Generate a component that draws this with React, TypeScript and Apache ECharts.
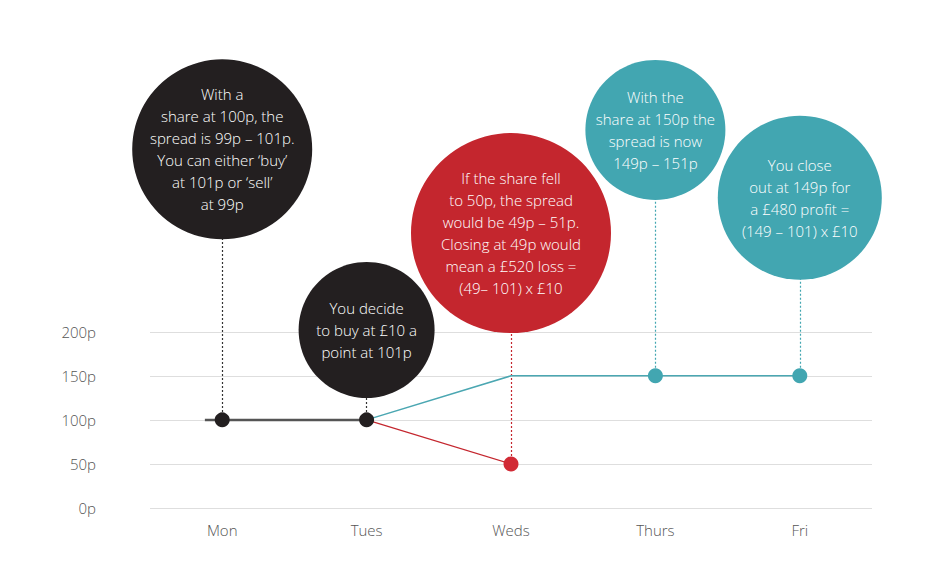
import React, { useEffect, useRef } from "react";
import * as echarts from "echarts";

// ---- data ----
const days = ["Mon", "Tues", "Weds", "Thurs", "Fri"];
const yTicks = [0, 50, 100, 150, 200];
const openingLine: [number, number][] = [[-0.12, 100], [0, 100], [1, 100]];
const riseLine: [number, number][] = [[1, 100], [2, 150], [3, 150], [4, 150]];
const fallLine: [number, number][] = [[1, 100], [2, 50]];
const noteTexts = [
  "With a\nshare at 100p, the\nspread is 99p – 101p.\nYou can either ‘buy’\nat 101p or ‘sell’\nat 99p",
  "You decide\nto buy at £10 a\npoint at 101p",
  "If the share fell\nto 50p, the spread\nwould be 49p – 51p.\nClosing at 49p would\nmean a £520 loss =\n(49– 101) x £10",
  "With the\nshare at 150p the\nspread is now\n149p – 151p",
  "You close\nout at 149p for\na £480 profit =\n(149 – 101) x £10",
];
const noteAnchors: [number, number][] = [[0, 100], [1, 100], [2, 50], [3, 150], [4, 150]];

// ---- layout / style (kept apart from data) ----
const BLACK = "#231f20";
const RED = "#c4262e";
const TEAL = "#42a6b1";
const bubbleLayout = [
  { cy: 407, size: 180, color: BLACK, line: "#333" },
  { cy: 202, size: 136, color: BLACK, line: "#333" },
  { cy: 312, size: 200, color: RED, line: RED },
  { cy: 429, size: 140, color: TEAL, line: TEAL },
  { cy: 352, size: 164, color: TEAL, line: TEAL },
];
const FONT = "'Open Sans', 'Noto Sans', sans-serif";

export default function App() {
  const ref = useRef<HTMLDivElement>(null);
  useEffect(() => {
    if (!ref.current) return;
    const chart = echarts.init(ref.current, null, { renderer: "svg" });

    const bubbles = noteTexts.map((t, i) => ({
      value: [noteAnchors[i][0], bubbleLayout[i].cy],
      symbolSize: bubbleLayout[i].size,
      itemStyle: { color: bubbleLayout[i].color, opacity: 1 },
      label: { formatter: t },
    }));

    const connectors = noteAnchors.map((a, i) => [
      { coord: [a[0], a[1]], lineStyle: { color: bubbleLayout[i].line } },
      { coord: [a[0], bubbleLayout[i].cy] },
    ]);

    const option: any = {
      animation: false,
      backgroundColor: "#ffffff",
      grid: { left: 150, right: 78, top: 85, bottom: 55 },
      xAxis: [
        {
          type: "category",
          data: days,
          boundaryGap: true,
          axisLine: { show: false },
          axisTick: { show: false },
          splitLine: { show: false },
          axisLabel: { color: "#555", fontSize: 15, margin: 14, fontFamily: FONT, fontWeight: 300 },
        },
        {
          type: "value",
          min: -0.5,
          max: 4.5,
          show: false,
        },
      ],
      yAxis: {
        type: "value",
        min: 0,
        max: 480,
        interval: 50,
        axisLine: { show: false },
        axisTick: { show: false },
        splitLine: { show: false },
        axisLabel: {
          color: "#555",
          fontSize: 15,
          margin: 54,
          fontFamily: FONT,
          fontWeight: 300,
          formatter: (v: number) => (yTicks.includes(v) ? v + "p" : ""),
        },
      },
      series: [
        {
          type: "line",
          name: "grid",
          xAxisIndex: 1,
          data: [],
          silent: true,
          z: 1,
          markLine: {
            silent: true,
            z: 1,
            symbol: "none",
            label: { show: false },
            lineStyle: { color: "#dedede", width: 1, type: "solid" },
            data: yTicks.map((v) => ({ yAxis: v })),
          },
        },
        {
          type: "line",
          name: "connectors",
          xAxisIndex: 1,
          data: [],
          silent: true,
          z: 2,
          markLine: {
            silent: true,
            z: 2,
            symbol: "none",
            label: { show: false },
            lineStyle: { width: 1.2, type: [2, 2] },
            data: connectors,
          },
        },
        {
          type: "line",
          name: "rise",
          xAxisIndex: 1,
          data: riseLine.map((p, i) => ({ value: p, symbol: i < 2 ? "none" : "circle" })),
          symbolSize: 15,
          showSymbol: true,
          lineStyle: { color: "#4ba7b2", width: 1.5 },
          itemStyle: { color: TEAL },
          z: 3,
        },
        {
          type: "line",
          name: "fall",
          xAxisIndex: 1,
          data: fallLine.map((p, i) => ({ value: p, symbol: i < 1 ? "none" : "circle" })),
          symbolSize: 15,
          lineStyle: { color: RED, width: 1.2 },
          itemStyle: { color: "#d12a35" },
          z: 3,
        },
        {
          type: "line",
          name: "opening",
          xAxisIndex: 1,
          data: openingLine.map((p, i) => ({ value: p, symbol: i === 0 ? "none" : "circle" })),
          symbolSize: 15,
          lineStyle: { color: "#555", width: 2.5 },
          itemStyle: { color: BLACK },
          z: 4,
        },
        {
          type: "scatter",
          name: "notes",
          xAxisIndex: 1,
          clip: false,
          silent: true,
          z: 6,
          data: bubbles,
          itemStyle: { opacity: 1 },
          label: {
            show: true,
            position: "inside",
            color: "#ffffff",
            fontSize: 15,
            lineHeight: 22,
            align: "center",
            fontFamily: FONT,
            fontWeight: 300,
          },
        },
      ],
    };
    chart.setOption(option);
    return () => chart.dispose();
  }, []);

  return (
    <div
      ref={ref}
      style={{ position: "fixed", left: 0, top: 0, width: 950, height: 563, background: "#fff" }}
    />
  );
}
